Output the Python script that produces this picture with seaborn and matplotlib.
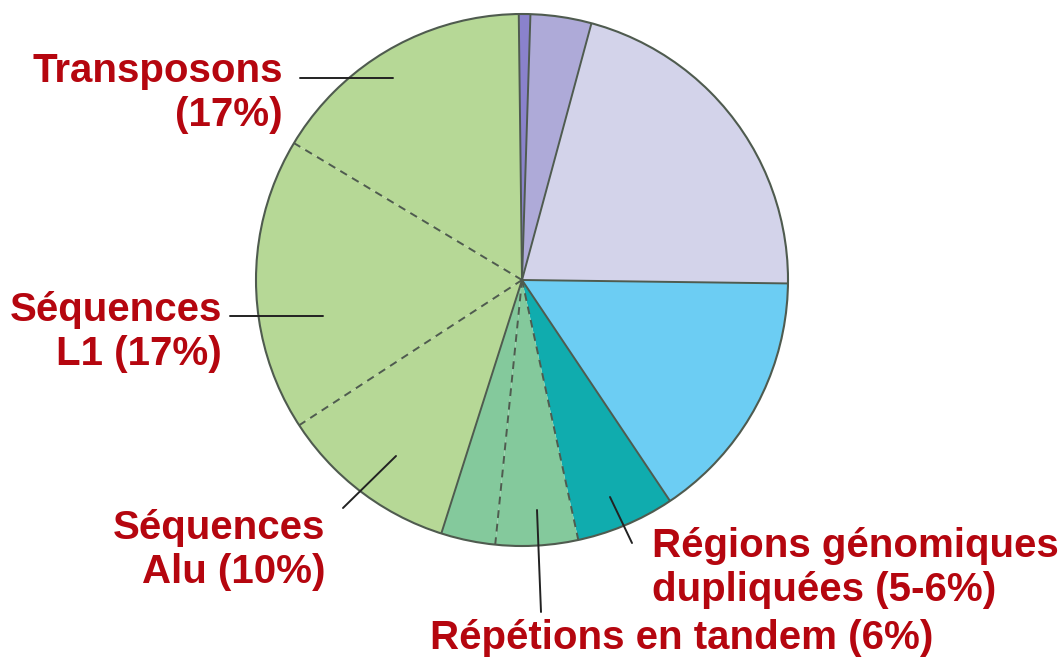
import numpy as np
import seaborn as sns
import matplotlib.pyplot as plt

# slices, clockwise from the top
parts = ["Autres 1", "Autres 2", "Autres 3", "Autres 4", "Régions dupliquées",
         "Tandem a", "Tandem b", "Alu", "L1", "Transposons"]
shares = [0.7, 3.7, 21.0, 15.4, 6.0, 5.0, 3.3, 10.9, 17.8, 16.2]
colors = ["#8a82cc", "#aeaad8", "#d3d3ea", "#6ccdf3", "#10acae",
          "#84c99c", "#84c99c", "#b6d896", "#b6d896", "#b6d896"]
# line style of the edge at the start of each slice
edge_styles = ["-", "-", "-", "-", "-", "--", "--", "-", "--", "--"]

label_texts = [
    ("Transposons\n(17%)", 283, 93, "right"),
    ("Séquences\nL1 (17%)", 222, 332, "right"),
    ("Séquences\nAlu (10%)", 325, 550, "right"),
    ("Régions génomiques\ndupliquées (5-6%)", 652, 568, "left"),
    ("Répétions en tandem (6%)", 430, 638, "left"),
]
leaders = [
    ((300, 78), (393, 78)),
    ((230, 316), (323, 316)),
    ((343, 508), (396, 456)),
    ((541, 612), (537, 510)),
    ((632, 543), (610, 497)),
]

W, H = 1064, 667
cx, cy, r = 522, H - 280, 266
start = 90.7
red = "#b5060f"
edge = "#4f5b4f"

sns.set_theme(style="white")
plt.rcParams['font.family'] = ['Liberation Sans', 'DejaVu Sans']

fig = plt.figure(figsize=(W / 100, H / 100), dpi=100)
ax = fig.add_axes([0, 0, 1, 1])

ax.pie(shares, colors=colors, startangle=start, counterclock=False,
       center=(cx, cy), radius=r, wedgeprops=dict(linewidth=0))

# radial edges between slices
bounds = start - 360 * np.concatenate([[0], np.cumsum(shares)[:-1]]) / sum(shares)
for ang, ls in zip(bounds, edge_styles):
    a = np.deg2rad(ang)
    ax.plot([cx, cx + r * np.cos(a)], [cy, cy + r * np.sin(a)],
            color=edge, lw=1.4, ls=ls, dashes=(4, 3) if ls == "--" else (None, None),
            solid_capstyle="butt")
ax.add_patch(plt.Circle((cx, cy), r, fill=False, ec=edge, lw=1.5))

for (x0, y0), (x1, y1) in leaders:
    ax.plot([x0, x1], [H - y0, H - y1], color="#222222", lw=1.4)

for txt, x, y, ha in label_texts:
    ax.text(x, H - y, txt, ha=ha, va="center", color=red, fontsize=29,
            fontweight="bold", linespacing=1.2)

ax.set_xlim(0, W)
ax.set_ylim(0, H)
ax.set_aspect("equal")
ax.axis("off")

fig.savefig("out.png", dpi=100)
